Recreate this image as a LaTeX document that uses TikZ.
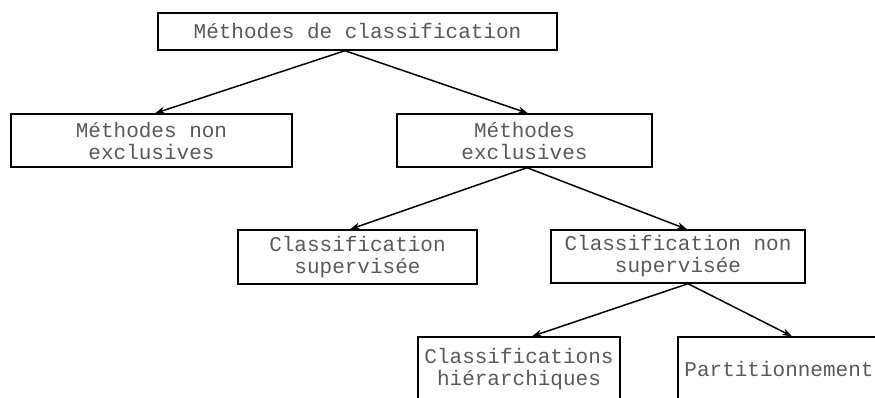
\documentclass[tikz,border=0pt]{standalone}
\usepackage{fontspec}
\setmainfont{Liberation Mono}
\usetikzlibrary{arrows.meta}
\tikzset{
  box/.style={draw=black, line width=1.4pt, fill=white, inner sep=0pt, align=center,
    text=black!65, font=\fontsize{21}{22}\selectfont},
  arr/.style={line width=1.5pt, -{Stealth[length=10pt,width=7pt]}}
}
\begin{document}
\begin{tikzpicture}[x=1pt,y=-1pt]
  \useasboundingbox (0,0) rectangle (875,398);
  \clip (0,0) rectangle (875,398);
  \fill[white] (0,0) rectangle (875,398);

  % class tree
  \node[box, minimum width=399pt, minimum height=37pt] (top) at (357.5,31.5) {Méthodes de classification};
  \node[box, minimum width=281pt, minimum height=53pt] (nonexcl) at (151.5,140.5) {Méthodes non\\exclusives};
  \node[box, minimum width=255pt, minimum height=53pt] (excl) at (524.5,140.5) {Méthodes\\exclusives};
  \node[box, minimum width=239pt, minimum height=54pt] (sup) at (357.5,257) {Classification\\supervisée};
  \node[box, minimum width=254pt, minimum height=53pt] (nonsup) at (678,256.5) {Classification non\\supervisée};
  \node[box, minimum width=202pt, minimum height=64pt] (hier) at (519,369) {Classifications\\hiérarchiques};
  \node[box, minimum width=202pt, minimum height=64pt] (part) at (779,369) {Partitionnement};

  % connectors
  \draw[arr] ([xshift=-12.5pt]top.south) -- ([xshift=3.5pt]nonexcl.north);
  \draw[arr] ([xshift=-12.5pt]top.south) -- ([xshift=3.5pt]excl.north);
  \draw[arr] ([xshift=2.5pt]excl.south) -- ([xshift=-7.5pt]sup.north);
  \draw[arr] ([xshift=2.5pt]excl.south) -- ([xshift=9pt]nonsup.north);
  \draw[arr] ([xshift=10pt]nonsup.south) -- ([xshift=13pt]hier.north);
  \draw[arr] ([xshift=10pt]nonsup.south) -- ([xshift=13pt]part.north);
\end{tikzpicture}
\end{document}
